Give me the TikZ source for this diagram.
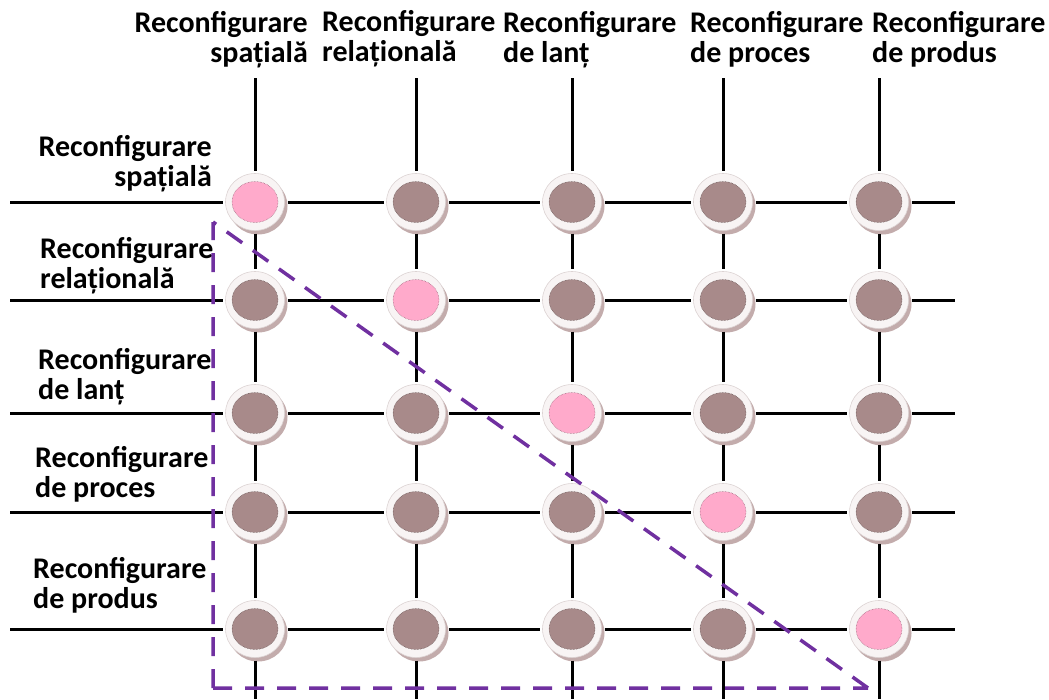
\documentclass[tikz,border=0pt]{standalone}
\usepackage{fontspec}
\setmainfont{Carlito}
\usetikzlibrary{shapes.geometric,shadows}

\definecolor{brownfill}{HTML}{A88A8A}
\definecolor{pinkfill}{HTML}{FFAACB}
\definecolor{ringfill}{HTML}{F8F4F4}
\definecolor{ringedge}{HTML}{DCD3D3}
\definecolor{shade}{HTML}{BCA3A3}
\definecolor{purp}{HTML}{7030A0}

\tikzset{
  lbl/.style={font=\fontsize{30}{29.5}\selectfont\bfseries, inner sep=0pt},
  knob/.style={ellipse, minimum width=59pt, minimum height=57pt, inner sep=0pt,
    fill=ringfill, draw=ringedge, line width=0.6pt, outer sep=3pt,
    drop shadow={shadow xshift=3pt, shadow yshift=-4pt, fill=shade, opacity=0.9},
    path picture={\fill[#1, draw=#1!55!black, densely dotted, line width=0.5pt]
      (path picture bounding box.center) ellipse [x radius=23pt, y radius=20.5pt];}},
  gridline/.style={draw=black, line width=3pt},
  zone/.style={draw=purp, line width=3.5pt, dash pattern=on 19pt off 13pt},
}

\begin{document}
\begin{tikzpicture}[x=1pt,y=-1pt]
\useasboundingbox (0,0) rectangle (1049,699);

% column headings (anchored on the baseline of their second line)
\node[lbl, align=right, anchor=base east] (c1) at (308,62) {Reconfigurare\\spațială};
\node[lbl, align=left, anchor=base west] (c2) at (322,61) {Reconfigurare\\relațională};
\node[lbl, align=left, anchor=base west] (c3) at (503,62) {Reconfigurare\\de lanț};
\node[lbl, align=left, anchor=base west] (c4) at (690,62) {Reconfigurare\\de proces};
\node[lbl, align=left, anchor=base west] (c5) at (872,62) {Reconfigurare\\de produs};

% row headings
\node[lbl, align=right, anchor=base east] (r1) at (212,186) {Reconfigurare\\spațială};
\node[lbl, align=left, anchor=base west] (r2) at (40,288) {Reconfigurare\\relațională};
\node[lbl, align=left, anchor=base west] (r3) at (38,399) {Reconfigurare\\de lanț};
\node[lbl, align=left, anchor=base west] (r4) at (35,497) {Reconfigurare\\de proces};
\node[lbl, align=left, anchor=base west] (r5) at (33,608) {Reconfigurare\\de produs};

% matrix of knobs: diagonal ones pink, the rest brown
\foreach \r/\y in {1/202,2/300,3/413,4/512,5/629}{
  \foreach \c/\x in {1/255,2/416,3/572,4/723,5/879}{
    \ifnum\r=\c \def\kc{pinkfill}\else\def\kc{brownfill}\fi
    \node[knob=\kc] (n\r\c) at (\x,\y) {};
  }
}

% row lines
\foreach \r/\y in {1/202,2/300,3/413,4/512,5/629}{
  \coordinate (rs\r) at (10,\y);
  \coordinate (re\r) at (955,\y);
  \draw[gridline] (rs\r) -- (n\r1) (n\r1) -- (n\r2) (n\r2) -- (n\r3)
    (n\r3) -- (n\r4) (n\r4) -- (n\r5) (n\r5) -- (re\r);
}

% column lines
\foreach \c/\x in {1/255,2/416,3/572,4/723,5/879}{
  \coordinate (cs\c) at (\x,78);
  \coordinate (ce\c) at (\x,699);
  \draw[gridline] (cs\c) -- (n1\c) (n1\c) -- (n2\c) (n2\c) -- (n3\c)
    (n3\c) -- (n4\c) (n4\c) -- (n5\c) (n5\c) -- (ce\c);
}

% dashed lower-triangle zone
\coordinate (t1) at (213,222);
\coordinate (t2) at (213,688);
\coordinate (t3) at (868,688);
\draw[zone] (t2) -- (t1) (t2) -- (t3) (t3) -- (t1);
\end{tikzpicture}
\end{document}
